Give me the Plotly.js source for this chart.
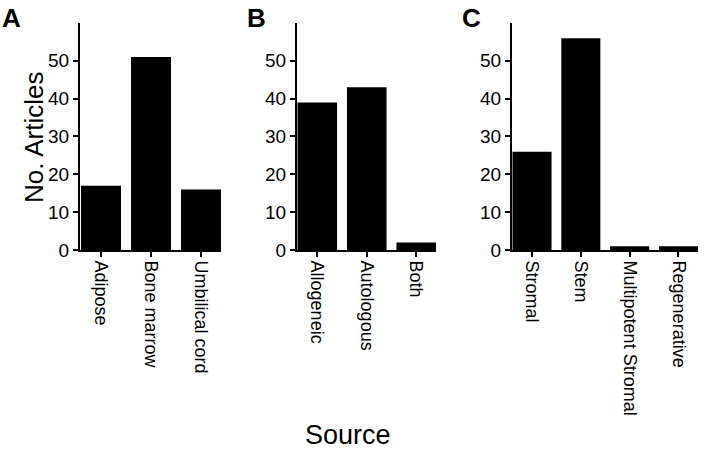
<!DOCTYPE html>
<html>
<head>
<meta charset="utf-8">
<script src="https://cdn.plot.ly/plotly-3.0.1.min.js"></script>
<style>html,body{margin:0;padding:0;background:#fff;}#chart{width:709px;height:451px;}</style>
</head>
<body>
<div id="chart"></div>
<script>
// Panel A: cell source
const catsA = ["Adipose", "Bone marrow", "Umbilical cord"];
const valsA = [17, 51, 16];
// Panel B: donor type
const catsB = ["Allogeneic", "Autologous", "Both"];
const valsB = [39, 43, 2];
// Panel C: nomenclature
const catsC = ["Stromal", "Stem", "Multipotent Stromal", "Regenerative"];
const valsC = [26, 56, 1, 1];
const yTicks = [0, 10, 20, 30, 40, 50];
const panelLetters = ["A", "B", "C"];
const yTitle = "No. Articles";
const xTitle = "Source";

const FONT = "Arial, 'Liberation Sans', Helvetica, sans-serif";

function bar(x, y, xa, ya) {
  return {type: "bar", x: x, y: y, xaxis: xa, yaxis: ya,
    marker: {color: "#000", line: {width: 0}}, hoverinfo: "x+y", showlegend: false};
}

const data = [
  bar(catsA, valsA, "x", "y"),
  bar(catsB, valsB, "x2", "y2"),
  bar(catsC, valsC, "x3", "y3")
];

const yDom = [0.4457, 0.949];
function xax(dom, rng, anchor) {
  return {domain: dom, range: rng, anchor: anchor, type: "category",
    showline: true, linewidth: 2, linecolor: "#000", ticks: "outside", ticklen: 5, tickwidth: 2, tickcolor: "#000",
    tickangle: 90, tickfont: {family: FONT, size: 18, color: "#000"}, showgrid: false, zeroline: false, fixedrange: true};
}
function yax(anchor) {
  return {domain: yDom, range: [0, 60], anchor: anchor, tickvals: yTicks,
    showline: true, linewidth: 2, linecolor: "#000", ticks: "outside", ticklen: 5, tickwidth: 2, tickcolor: "#000",
    tickfont: {family: FONT, size: 19, color: "#000"}, showgrid: false, zeroline: false, fixedrange: true};
}

const layout = {
  width: 709, height: 451,
  margin: {l: 0, r: 0, t: 0, b: 0},
  paper_bgcolor: "#fff", plot_bgcolor: "#fff",
  bargap: 0.2,
  font: {family: FONT, color: "#000"},
  xaxis: xax([80/709, 221/709], [-0.42, 2.4], "y"),
  yaxis: yax("x"),
  xaxis2: xax([297/709, 436/709], [-0.41, 2.4], "y2"),
  yaxis2: yax("x2"),
  xaxis3: xax([512/709, 698/709], [-0.41, 3.4], "y3"),
  yaxis3: yax("x3"),
  annotations: [
    {text: "<b>" + panelLetters[0] + "</b>", x: 0/709, y: 1 - 1/451, xref: "paper", yref: "paper", xanchor: "left", yanchor: "top", showarrow: false, font: {family: FONT, size: 26, color: "#000"}},
    {text: "<b>" + panelLetters[1] + "</b>", x: 245/709, y: 1 - 1/451, xref: "paper", yref: "paper", xanchor: "left", yanchor: "top", showarrow: false, font: {family: FONT, size: 26, color: "#000"}},
    {text: "<b>" + panelLetters[2] + "</b>", x: 460/709, y: 1 - 1/451, xref: "paper", yref: "paper", xanchor: "left", yanchor: "top", showarrow: false, font: {family: FONT, size: 26, color: "#000"}},
    {text: yTitle, textangle: -90, x: 34/709, y: 1 - 137/451, xref: "paper", yref: "paper", xanchor: "center", yanchor: "middle", showarrow: false, font: {family: FONT, size: 26, color: "#000"}},
    {text: xTitle, x: 348/709, y: 0, xref: "paper", yref: "paper", xanchor: "center", yanchor: "bottom", borderpad: 0, showarrow: false, font: {family: FONT, size: 27, color: "#000"}}
  ]
};

Plotly.newPlot("chart", data, layout, {displayModeBar: false, staticPlot: true});
</script>
</body>
</html>
